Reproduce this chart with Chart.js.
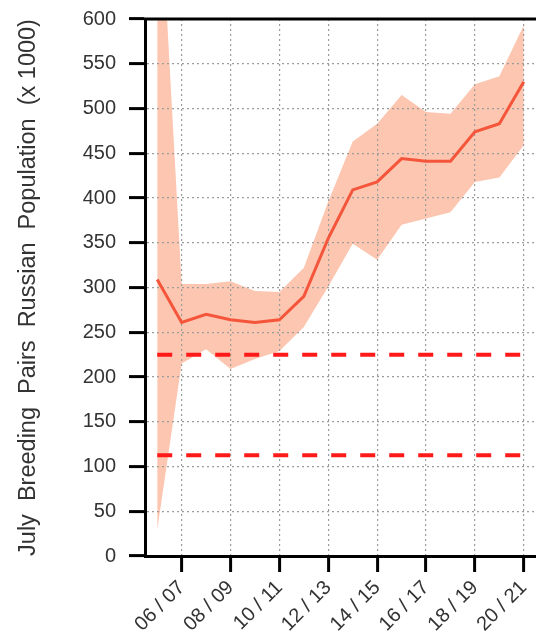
<!DOCTYPE html>
<html>
<head>
<meta charset="utf-8">
<script src="https://cdn.jsdelivr.net/npm/chart.js@4/dist/chart.umd.min.js"></script>
<style>
  html, body { margin: 0; padding: 0; background: #ffffff; }
  #wrap { width: 536px; height: 634px; }
</style>
</head>
<body>
<div id="wrap"><canvas id="chart" width="536" height="634"></canvas></div>
<script>
// Breeding seasons (July counts)
const seasons = ['05 / 06', '06 / 07', '07 / 08', '08 / 09', '09 / 10', '10 / 11', '11 / 12', '12 / 13',
                 '13 / 14', '14 / 15', '15 / 16', '16 / 17', '17 / 18', '18 / 19', '19 / 20', '20 / 21'];

// Population estimate (thousand breeding pairs)
const population = [309, 261, 270, 264, 261, 264, 290, 355, 409, 418, 444, 441, 441, 474, 483, 530];

// Confidence band
const upperBound = [800, 304, 304, 307, 296, 295, 322, 396, 463, 483, 515, 496, 494, 527, 536, 593];
const lowerBound = [29, 215, 231, 209, 220, 229, 256, 301, 349, 331, 370, 377, 384, 418, 423, 459];

// Reference levels
const referenceLevels = [225, 112.5];

// Y axis ticks
const yMin = 0, yMax = 600, yStep = 50;

const yTitle = 'July  Breeding  Pairs  Russian  Population  (x 1000)';

const fontFamily = '"Liberation Sans", Arial, sans-serif';
const tickFont = { family: fontFamily, size: 20 };
const textColor = '#333333';

// Thick frame line along the top of the plot area
const topFrame = {
  id: 'topFrame',
  afterDraw(chart) {
    const { ctx, chartArea } = chart;
    ctx.save();
    ctx.strokeStyle = '#000';
    ctx.lineWidth = 3;
    ctx.beginPath();
    ctx.moveTo(chartArea.left - 1, chartArea.top);
    ctx.lineTo(chart.width, chartArea.top);
    ctx.stroke();
    ctx.restore();
  }
};

const refDatasets = referenceLevels.map(level => ({
  data: seasons.map(() => level),
  borderColor: '#ff1a1a',
  borderWidth: 4,
  borderDash: [15, 14],
  pointRadius: 0,
  fill: false,
  order: 1
}));

new Chart(document.getElementById('chart'), {
  type: 'line',
  data: {
    labels: seasons,
    datasets: [
      {
        data: upperBound,
        borderWidth: 0,
        borderColor: 'rgba(0,0,0,0)',
        backgroundColor: '#fcc6b0',
        pointRadius: 0,
        fill: '+1',
        order: 3
      },
      {
        data: lowerBound,
        borderWidth: 0,
        borderColor: 'rgba(0,0,0,0)',
        pointRadius: 0,
        fill: false,
        order: 3
      },
      {
        data: population,
        borderColor: '#f4553b',
        borderWidth: 3,
        pointRadius: 0,
        fill: false,
        tension: 0,
        order: 0
      },
      ...refDatasets
    ]
  },
  options: {
    responsive: false,
    animation: false,
    devicePixelRatio: 1,
    layout: { padding: { top: 19, right: 0, bottom: 0, left: 0 } },
    plugins: {
      legend: { display: false },
      tooltip: { enabled: false },
      filler: { drawTime: 'beforeDraw' }
    },
    scales: {
      x: {
        type: 'category',
        offset: true,
        afterBuildTicks(scale) {
          scale.ticks = scale.ticks.filter((t, i) => i % 2 === 1);
        },
        afterFit(scale) {
          scale.height = 78;
          scale.paddingLeft = 0;
          scale.paddingRight = 0;
        },
        ticks: {
          autoSkip: false,
          maxRotation: 45,
          minRotation: 45,
          font: tickFont,
          color: textColor,
          padding: 4
        },
        grid: {
          offset: false,
          color: '#9c9c9c',
          lineWidth: 1.2,
          tickLength: 16,
          tickWidth: 3,
          tickColor: '#000'
        },
        border: { display: true, width: 3, color: '#000', dash: [2, 3] }
      },
      y: {
        min: yMin,
        max: yMax,
        afterFit(scale) {
          scale.width = 145;
          scale.paddingTop = 0;
          scale.paddingBottom = 0;
        },
        ticks: {
          stepSize: yStep,
          font: tickFont,
          color: textColor,
          padding: 13
        },
        grid: {
          color: '#9c9c9c',
          lineWidth: 1.2,
          tickLength: 16,
          tickWidth: 3,
          tickColor: '#000'
        },
        border: { display: true, width: 3, color: '#000', dash: [2, 3] },
        title: {
          display: true,
          text: yTitle,
          font: { family: fontFamily, size: 23.5 },
          color: textColor,
          padding: { top: 14, bottom: 0 }
        }
      }
    }
  },
  plugins: [topFrame]
});
</script>
</body>
</html>
